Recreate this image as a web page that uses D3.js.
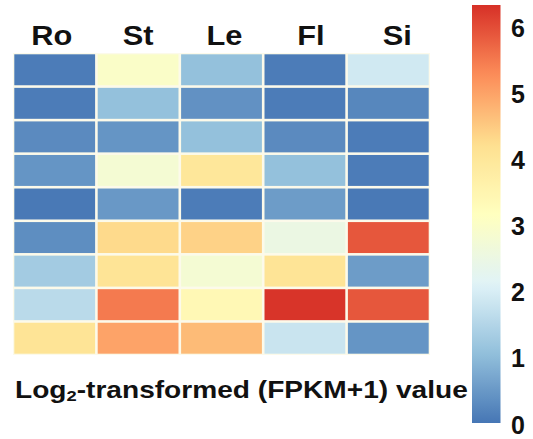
<!DOCTYPE html>
<html><head><meta charset="utf-8">
<script src="https://cdn.jsdelivr.net/npm/d3@7"></script>
<style>
html,body{margin:0;padding:0;background:#fff;}
svg{display:block;}
text{font-family:"Liberation Sans",Arial,sans-serif;font-weight:bold;fill:#111;}
</style></head>
<body>
<svg id="chart" width="533" height="439"></svg>
<script>
const tissues = ["Ro", "St", "Le", "Fl", "Si"];
const genes = ["g1","g2","g3","g4","g5","g6","g7","g8","g9"];
const valRo = [0.1, 0.1, 0.3, 0.45, 0.05, 0.35, 1.3, 1.6, 4.1];
const valSt = [3.0, 1.1, 0.45, 2.8, 0.5, 4.3, 4.1, 5.5, 5.0];
const valLe = [1.1, 0.4, 1.1, 4.0, 0.1, 4.4, 2.8, 3.4, 4.7];
const valFl = [0.1, 0.1, 0.3, 1.1, 0.55, 2.5, 4.1, 6.3, 1.8];
const valSi = [1.9, 0.25, 0.1, 0.1, 0.05, 5.9, 0.55, 5.9, 0.45];
const legendTicks = [0, 1, 2, 3, 4, 5, 6];
const palette = ["#4575b4","#91bfdb","#e0f3f8","#ffffbf","#fee090","#fc8d59","#d73027"];
const vMin = 0, vMax = 6.34;

const seriesByTissue = [valRo, valSt, valLe, valFl, valSi];
const cells = [];
tissues.forEach((t, j) => genes.forEach((g, i) => cells.push({t, g, v: seriesByTissue[j][i]})));

const color = d3.scaleLinear()
  .domain(palette.map((_, i) => vMin + (vMax - vMin) * i / (palette.length - 1)))
  .range(palette).interpolate(d3.interpolateRgb).clamp(true);

const svg = d3.select("#chart");
const x = d3.scaleBand().domain(tissues).range([13, 430]).padding(0);
const y = d3.scaleBand().domain(genes).range([53, 355]).padding(0);

svg.append("rect").attr("x", 13).attr("y", 53).attr("width", 417).attr("height", 302)
  .attr("fill", "#fcfaea");

svg.append("g").selectAll("rect").data(cells).join("rect")
  .attr("x", d => x(d.t) + 1.3)
  .attr("y", d => y(d.g) + 1.3)
  .attr("width", x.bandwidth() - 2.6)
  .attr("height", y.bandwidth() - 2.6)
  .attr("fill", d => color(d.v));

const sx = 1.1;
svg.append("g").selectAll("text").data(tissues).join("text")
  .attr("transform", (d, i) => `translate(${x(d) + x.bandwidth() / 2 + (i - 1) * 3},45) scale(${sx},1)`)
  .attr("text-anchor", "middle")
  .attr("font-size", 28)
  .text(d => d);

// bottom caption
const cap = svg.append("text").attr("font-size", 23);
cap.append("tspan").text("Log");
cap.append("tspan").attr("font-size", 15).attr("dy", 3).text("2");
cap.append("tspan").attr("dy", -3).text("-transformed (FPKM+1) value");
const cw = cap.node().getComputedTextLength();
cap.attr("transform", `translate(15,398) scale(${453 / cw},1)`);

// color legend
const ly = d3.scaleLinear().domain([vMin, 6]).range([424, 27.5]);
const defs = svg.append("defs");
const grad = defs.append("linearGradient").attr("id", "lg")
  .attr("x1", 0).attr("y1", 1).attr("x2", 0).attr("y2", 0);
const barTop = 5, barBot = 423;
const gTop = ly.invert(barTop), gBot = ly.invert(barBot);
d3.range(0, 1.0001, 0.02).forEach(f => {
  grad.append("stop").attr("offset", f).attr("stop-color", color(gBot + (gTop - gBot) * f));
});
svg.append("rect").attr("x", 472).attr("y", barTop).attr("width", 28.5).attr("height", barBot - barTop)
  .attr("fill", "url(#lg)");

const axis = d3.axisRight(ly).tickValues(legendTicks).tickSize(0).tickPadding(0).tickFormat(d3.format("d"));
const ag = svg.append("g").attr("transform", "translate(511,0)").call(axis);
ag.select(".domain").remove();
ag.selectAll("text").attr("font-size", 25).attr("font-family", "'Liberation Sans',Arial,sans-serif")
  .attr("font-weight", "bold").attr("fill", "#111").attr("dy", "0.36em").attr("x", 0);
</script>
</body></html>
